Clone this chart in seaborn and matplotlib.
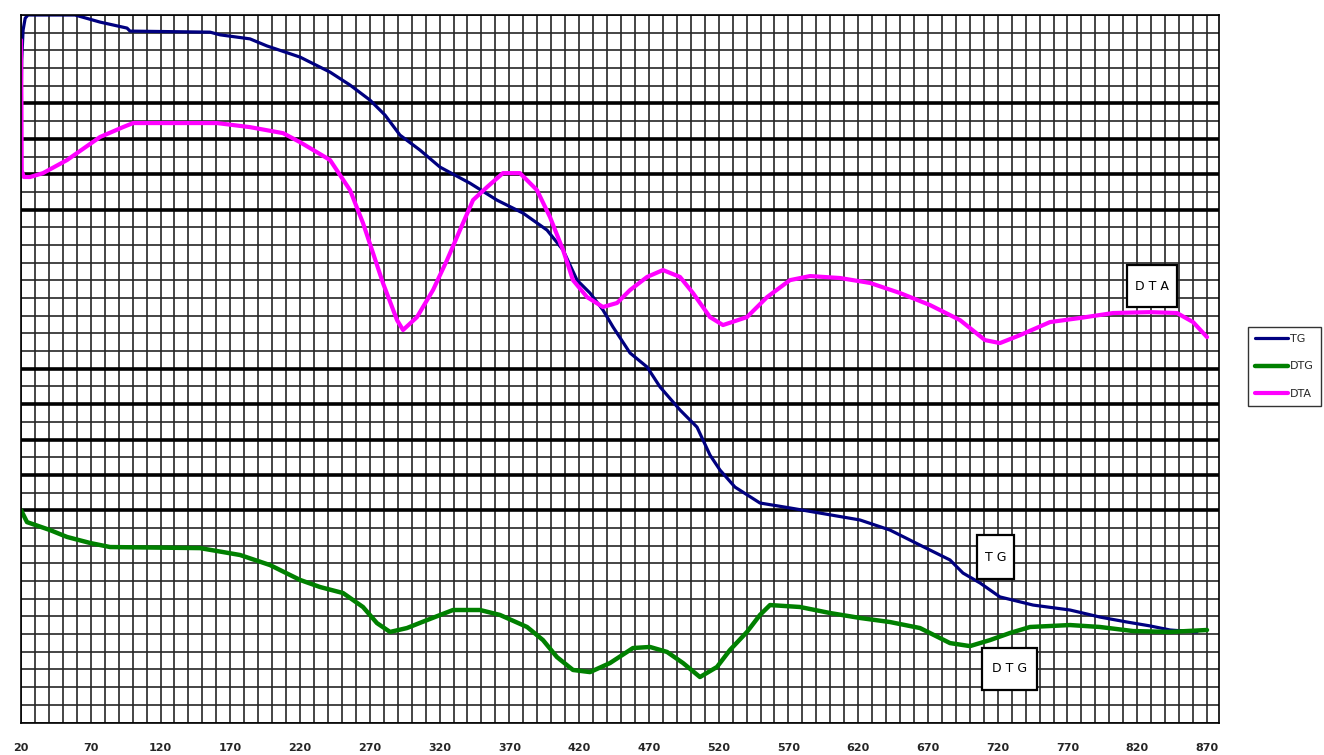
import numpy as np
import pandas as pd
import matplotlib
matplotlib.use("Agg")
import matplotlib.pyplot as plt
from matplotlib.patches import Rectangle
import seaborn as sns

# Thermal analysis curves: temperature (deg C) vs signal in chart grid units
tg_temp = [20, 20.5, 21.5, 23, 25, 37.2, 58.7, 76.6, 96, 98.1, 155.5, 162.6, 184.1, 196.3, 220,
           241.5, 255.8, 270.1, 280.9, 291.6, 306, 320.3, 341.8, 361.2, 379.8, 397, 408.5, 418.5,
           427.8, 437.1, 444.3, 456.5, 468.7, 478, 492.3, 504.5, 513.8, 521, 531.7, 549.6, 571.1,
           592.6, 621.3, 642.8, 664.3, 685.8, 695.1, 707.3, 721.6, 745.3, 771.8, 793.3, 812.7,
           829.2, 843.5, 862.8]
tg_val = [34.23, 37.45, 39.15, 39.82, 40.0, 40.0, 40.0, 39.6, 39.26, 39.09, 39.03, 38.88, 38.65,
          38.25, 37.62, 36.77, 36.04, 35.19, 34.34, 33.21, 32.36, 31.40, 30.49, 29.53, 28.80,
          27.84, 26.71, 25.01, 24.28, 23.32, 22.36, 20.89, 20.10, 18.97, 17.67, 16.70, 15.12,
          14.27, 13.31, 12.41, 12.13, 11.84, 11.45, 10.88, 10.03, 9.19, 8.45, 7.89, 7.10, 6.64,
          6.36, 5.96, 5.68, 5.46, 5.23, 5.12]

dta_temp = [20, 20.3, 20.5, 22, 26.5, 35.8, 53, 76.6, 93.1, 100.3, 160.5, 184.1, 207.8, 220,
            241.5, 255.8, 265.1, 272.3, 279.4, 289.5, 293.8, 303.8, 315.3, 325.3, 334.6, 344,
            354, 365.4, 377.6, 389.8, 399.1, 408.5, 415.6, 425.7, 437.1, 447.2, 456.5, 468.7,
            480.1, 492.3, 501.6, 513.8, 523.1, 540.3, 554.7, 571.1, 585.5, 607, 628.5, 650,
            671.5, 693, 710.9, 721.6, 736, 757.5, 779, 802.6, 829.2, 848.5, 860, 870]
dta_val = [38.58, 35.19, 31.23, 30.84, 30.84, 31.06, 31.80, 33.10, 33.66, 33.89, 33.89, 33.66,
           33.32, 32.81, 31.80, 30.10, 28.24, 26.54, 24.85, 22.75, 22.19, 22.92, 24.45, 26.14,
           27.84, 29.54, 30.27, 31.06, 31.06, 30.10, 28.58, 26.71, 25.01, 24.05, 23.49, 23.72,
           24.45, 25.19, 25.58, 25.19, 24.28, 22.92, 22.47, 22.92, 24.05, 25.01, 25.24, 25.13,
           24.85, 24.28, 23.60, 22.75, 21.62, 21.45, 21.90, 22.64, 22.87, 23.15, 23.20, 23.15,
           22.64, 21.79]

dtg_temp = [20, 24.3, 40.8, 53, 69.5, 83.8, 148.3, 177, 198.5, 220, 234.3, 250.8, 265.1, 275.1,
            284.5, 296.6, 311, 329.6, 349, 363.3, 382.7, 394.1, 404.1, 415.6, 427.8, 442.1,
            458.6, 470.8, 483, 494.5, 506.6, 518.8, 528.1, 540.3, 549.6, 556.8, 578.3, 599.8,
            621.3, 642.8, 664.3, 685.8, 700.1, 714.5, 728.8, 743.2, 771.8, 793.3, 817, 843.5, 870]
dtg_val = [12.01, 11.33, 10.88, 10.49, 10.15, 9.92, 9.86, 9.47, 8.90, 8.06, 7.66, 7.32, 6.53,
           5.62, 5.12, 5.34, 5.79, 6.36, 6.36, 6.08, 5.40, 4.66, 3.70, 2.97, 2.85, 3.36, 4.21,
           4.27, 3.99, 3.36, 2.57, 3.14, 4.10, 5.12, 6.08, 6.64, 6.53, 6.19, 5.91, 5.68, 5.34,
           4.49, 4.32, 4.66, 5.06, 5.40, 5.51, 5.40, 5.17, 5.12, 5.23]

x_ticks = list(range(20, 871, 50))

sns.set_style("white")
plt.rcParams["font.family"] = ["DejaVu Sans"]

fig = plt.figure(figsize=(13.24, 7.55), dpi=100)
ax = fig.add_axes([21 / 1324, 1 - 722.5 / 755, (1219 - 21) / 1324, (722.5 - 15) / 755])

# grid: every 10 deg vertically, one unit horizontally
ax.set_xlim(20, 878.6)
ax.set_ylim(0, 40)
ax.set_xticks(x_ticks)
ax.set_xticklabels([str(t) for t in x_ticks], fontsize=8, fontweight="bold")
ax.set_xticks(np.arange(20, 878, 10), minor=True)
ax.set_yticks(np.arange(0, 41, 1))
ax.set_yticklabels([])
ax.tick_params(axis="y", length=0)
ax.tick_params(axis="x", which="major", length=4, width=1, color="black", pad=11, direction="out")
ax.tick_params(axis="x", which="minor", length=0)
ax.grid(which="both", axis="x", color="#262626", lw=1.2)
ax.grid(which="major", axis="y", color="#262626", lw=1.2)
heavy = {35, 33, 31, 29, 20, 18, 16, 14, 12}
for val, gl in zip(np.arange(0, 41, 1), ax.yaxis.get_gridlines()):
    if val in heavy:
        gl.set_linewidth(2.6)
        gl.set_color("black")
ax.set_axisbelow(True)
for sp in ax.spines.values():
    sp.set_color("black")
    sp.set_linewidth(1.2)

sns.lineplot(x=tg_temp, y=tg_val, ax=ax, color="#000080", lw=2.3, label="TG",
             sort=False, estimator=None)
sns.lineplot(x=dtg_temp, y=dtg_val, ax=ax, color="#008000", lw=3.2, label="DTG",
             sort=False, estimator=None)
sns.lineplot(x=dta_temp, y=dta_val, ax=ax, color="#FF00FF", lw=3.0, label="DTA",
             sort=False, estimator=None)

# curve name boxes
for name, x0, y0, w, h in [("D T A", 812.7, 23.49, 35.8, 2.37),
                           ("T G", 705.2, 8.11, 26.5, 2.49),
                           ("D T G", 708.7, 1.84, 39.5, 2.37)]:
    ax.add_patch(Rectangle((x0, y0), w, h, facecolor="white", edgecolor="black",
                           lw=1.6, zorder=3))
    ax.text(x0 + w / 2, y0 + h / 2, name, ha="center", va="center", fontsize=9,
            color="black", zorder=4)

handles, labels = ax.get_legend_handles_labels()
ax.get_legend().remove()
leg = fig.legend(handles, labels, loc="upper left",
                 bbox_to_anchor=(1248 / 1324, 1 - 327 / 755), frameon=True,
                 fancybox=False, edgecolor="black", fontsize=8, handlelength=3.0,
                 handletextpad=0.2, labelspacing=1.6, borderpad=0.6, borderaxespad=0)
leg.get_frame().set_linewidth(1.0)

fig.savefig("out.png", dpi=100, facecolor="white")
